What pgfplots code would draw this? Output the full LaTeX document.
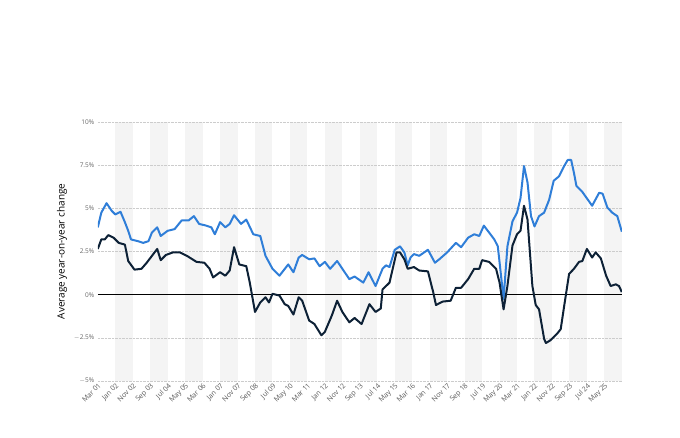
\documentclass[border=0pt]{standalone}
\usepackage{pgfplots}
\pgfplotsset{compat=1.18}
\usepackage{fontspec}
\setmainfont{Open Sans}
\definecolor{nom}{HTML}{2F7ED8}
\definecolor{real}{HTML}{0D2136}
\definecolor{band}{HTML}{F4F4F4}
\begin{document}
\begin{tikzpicture}[x=1pt,y=1pt]
\path[use as bounding box] (0,0) rectangle (680,438);
\begin{axis}[
  at={(56,83)}, anchor=origin,
  scale only axis, width=524pt, height=259pt,
  xmin=0, xmax=300, ymin=-5, ymax=10,
  x=1.7467pt, y=17.2667pt,
  axis line style={draw=none}, tick style={draw=none},
  ytick={-5,-2.5,0,2.5,5,7.5,10},
  yticklabels={$-$5\%,$-$2.5\%,0\%,2.5\%,5\%,7.5\%,10\%},
  xtick={0,10,...,290},
  xticklabels={Mar 01,Jan 02,Nov 02,Sep 03,Jul 04,May 05,Mar 06,Jan 07,Nov 07,Sep 08,Jul 09,May 10,Mar 11,Jan 12,Nov 12,Sep 13,Jul 14,May 15,Mar 16,Jan 17,Nov 17,Sep 18,Jul 19,May 20,Mar 21,Jan 22,Nov 22,Sep 23,Jul 24,May 25},
  xticklabel style={rotate=45, anchor=north east, font=\fontsize{7}{7}\selectfont, text=gray!70!black, inner sep=1pt},
  yticklabel style={font=\fontsize{6.5}{7}\selectfont, text=gray!80!black},
  ylabel={Average year-on-year change},
  ylabel style={font=\fontsize{6.5}{7}\selectfont, text=gray!80!black},
  every axis y label/.style={at={(ticklabel cs:0.5)}, rotate=90, anchor=south, xshift=0pt},
  legend columns=2,
  legend style={at={(0.44,-0.27)}, anchor=center, draw=none, font=\fontsize{7.5}{9}\selectfont\bfseries, text=black!80, /tikz/every even column/.append style={column sep=10pt}},
  legend image code/.code={\draw[#1, line width=2pt] (0,0)--(0.45cm,0); \fill[#1] (0.225cm,0) circle (2.2pt);},
]
\pgfplotsinvokeforeach{10,30,...,290}{\fill[band] (axis cs:#1,-5) rectangle (axis cs:#1+10,10);}
\draw[gray!40, densely dotted] (axis cs:0,-5)--(axis cs:300,-5) (axis cs:0,-2.5)--(axis cs:300,-2.5) (axis cs:0,2.5)--(axis cs:300,2.5) (axis cs:0,5)--(axis cs:300,5) (axis cs:0,7.5)--(axis cs:300,7.5) (axis cs:0,10)--(axis cs:300,10);
\addplot[black, forget plot] coordinates {(0,0)(300,0)};
\addplot[nom, line width=2pt, line join=round] coordinates {
(0,3.9)(2,4.75)(5,5.3)(8,4.85)(10,4.65)(13,4.8)(15.5,4.2)(17.4,3.7)(19,3.2)(23,3.1)(26,3.0)(29,3.1)(31,3.6)(34,3.9)(36,3.4)(40,3.7)(44,3.8)(48,4.3)(52,4.3)(55,4.55)(58,4.1)(62,4.0)(65,3.9)(67,3.5)(70,4.2)(73,3.9)(75.5,4.1)(78,4.6)(82,4.1)(85,4.35)(89,3.5)(93,3.4)(96,2.25)(100,1.5)(104,1.1)(109,1.75)(112,1.3)(115,2.15)(117,2.3)(121,2.05)(124,2.1)(127,1.65)(130,1.9)(133,1.5)(137,1.95)(140,1.5)(144,0.9)(147,1.05)(152,0.7)(155,1.3)(159,0.5)(163,1.5)(165,1.7)(167,1.6)(170,2.6)(173,2.8)(175.5,2.45)(177.4,1.7)(179,2.15)(181,2.35)(184,2.25)(189,2.6)(193,1.85)(195.5,2.05)(200,2.45)(205,3.0)(208,2.75)(212,3.3)(215.5,3.5)(218.4,3.4)(221,4.0)(224,3.6)(227,3.2)(229,2.8)(232.3,-0.25)(234.5,2.8)(237.4,4.25)(240,4.75)(242,5.6)(244,7.45)(246,6.5)(248,4.55)(250,3.95)(252.6,4.55)(255.5,4.75)(258.4,5.5)(261,6.6)(264,6.85)(267,7.45)(269,7.8)(271,7.8)(272.6,7.05)(274,6.3)(277.4,5.95)(283,5.15)(287,5.9)(289,5.85)(291.7,5.05)(294.5,4.75)(297.4,4.55)(300,3.65)};
\addlegendentry{Nominal}
\addplot[real, line width=2pt, line join=round] coordinates {
(0,2.65)(2,3.2)(4,3.2)(6,3.45)(9,3.3)(12,3.0)(15.5,2.9)(17.4,1.95)(21,1.45)(25,1.5)(28,1.85)(34,2.65)(36,2.0)(39,2.3)(43,2.45)(47,2.45)(51,2.25)(56.5,1.9)(61,1.85)(64,1.5)(66,1.0)(70,1.3)(73,1.1)(75.5,1.4)(78,2.75)(81,1.75)(85,1.65)(87,0.7)(90,-1.0)(93,-0.45)(96,-0.15)(98,-0.45)(100,0.05)(104,-0.05)(107,-0.55)(109,-0.65)(112,-1.15)(115,-0.15)(117,-0.35)(121,-1.5)(124,-1.7)(128,-2.35)(130,-2.15)(134,-1.2)(137,-0.35)(140,-1.0)(144,-1.6)(147,-1.35)(151,-1.7)(155.5,-0.55)(159,-1.0)(162,-0.8)(163,0.3)(167,0.7)(171,2.45)(173,2.45)(175.5,2.05)(177.4,1.5)(181,1.6)(184,1.4)(189,1.35)(192,0.15)(193.6,-0.6)(197.4,-0.4)(202,-0.35)(205,0.4)(208,0.4)(212,0.9)(215.5,1.5)(218.4,1.5)(220,2.0)(224,1.9)(228,1.5)(230,0.7)(232.3,-0.85)(234.5,0.5)(237.4,2.85)(240,3.5)(242,3.7)(244,5.15)(246,4.35)(248.8,0.5)(250.7,-0.6)(252.6,-0.85)(255.5,-2.55)(256.5,-2.8)(259,-2.65)(263,-2.25)(265,-2.0)(267,-0.65)(269.8,1.2)(272.6,1.5)(275.5,1.9)(277.4,1.95)(280,2.65)(283,2.15)(285,2.45)(288,2.1)(291,1.1)(293.6,0.5)(296.5,0.6)(298.4,0.5)(300,0.15)};
\addlegendentry{Real Terms}
\end{axis}
\end{tikzpicture}
\end{document}
